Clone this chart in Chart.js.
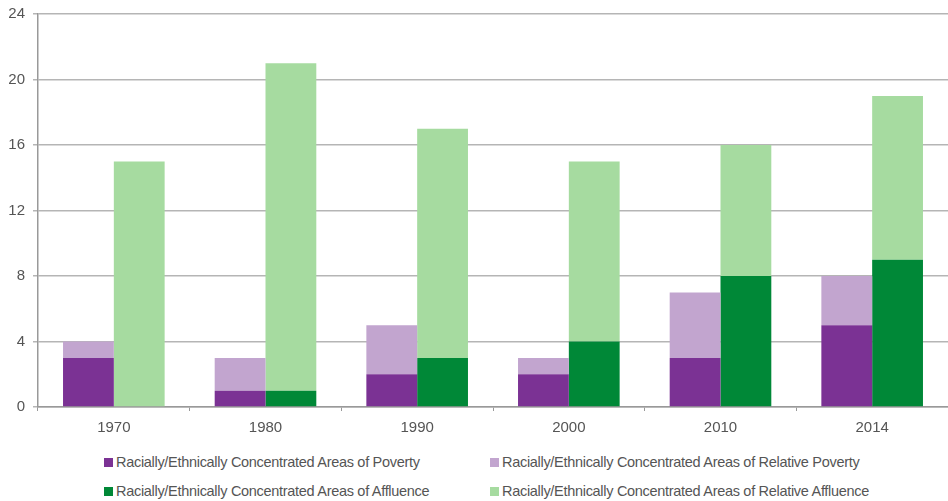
<!DOCTYPE html>
<html>
<head>
<meta charset="utf-8">
<script src="https://cdn.jsdelivr.net/npm/chart.js@4"></script>
<style>
  html, body { margin: 0; padding: 0; background: #fff; }
  #wrap { position: relative; width: 948px; height: 501px; }
  #c { position: absolute; left: 0; top: 0; }
  .legend { position: absolute; font-family: "Liberation Sans", Arial, sans-serif; font-size: 14.5px; color: #555; letter-spacing: -0.3px; white-space: nowrap; }
  .legend span.box { display: inline-block; width: 9px; height: 9px; margin-right: 3px; vertical-align: 0px; }
</style>
</head>
<body>
<div id="wrap">
  <canvas id="c" width="948" height="441"></canvas>
  <div id="legend"></div>
</div>
<script>
const categories = ["1970", "1980", "1990", "2000", "2010", "2014"];
const seriesNames = [
  "Racially/Ethnically Concentrated Areas of Poverty",
  "Racially/Ethnically Concentrated Areas of Relative Poverty",
  "Racially/Ethnically Concentrated Areas of Affluence",
  "Racially/Ethnically Concentrated Areas of Relative Affluence"
];
const poverty = [3, 1, 2, 2, 3, 5];
const relativePoverty = [1, 2, 3, 1, 4, 3];
const affluence = [0, 1, 3, 4, 8, 9];
const relativeAffluence = [15, 20, 14, 11, 8, 10];
const yTicks = [0, 4, 8, 12, 16, 20, 24];

const colors = ["#7b3294", "#c2a5cf", "#008837", "#a6dba0"];
const stacks = ["poverty", "poverty", "affluence", "affluence"];
const values = [poverty, relativePoverty, affluence, relativeAffluence];

const datasets = values.map((v, i) => ({
  label: seriesNames[i],
  data: v,
  backgroundColor: colors[i],
  stack: stacks[i],
  borderWidth: 0,
  categoryPercentage: 0.67,
  barPercentage: 1.0
}));

new Chart(document.getElementById("c"), {
  type: "bar",
  data: { labels: categories, datasets },
  options: {
    responsive: false,
    animation: false,
    layout: { padding: { top: 14, right: 0, left: 0, bottom: 0 } },
    plugins: { legend: { display: false }, tooltip: { enabled: false } },
    scales: {
      x: {
        stacked: true,
        grid: { display: true, drawOnChartArea: false, drawTicks: true, tickLength: 4, color: "#999", offset: true },
        border: { display: true, color: "#999", width: 1.5 },
        ticks: { color: "#555", font: { family: "Liberation Sans", size: 15 }, padding: 8 },
        afterFit: (s) => { s.height = 34; s.paddingLeft = 0; s.paddingRight = 0; }
      },
      y: {
        stacked: true,
        min: 0, max: 24,
        afterBuildTicks: (s) => { s.ticks = yTicks.map(v => ({ value: v })); },
        grid: { color: "#b5b5b5", lineWidth: 1.5, drawTicks: true, tickLength: 5 },
        border: { display: true, color: "#999", width: 1.5 },
        ticks: { color: "#555", font: { family: "Liberation Sans", size: 15 }, padding: 8 },
        afterFit: (s) => { s.width = 38; s.paddingTop = 0; s.paddingBottom = 0; }
      }
    }
  }
});

const legend = document.getElementById("legend");
const pos = [[104, 454], [490, 454], [104, 483], [490, 483]];
seriesNames.forEach((n, i) => {
  const d = document.createElement("div");
  d.className = "legend";
  d.style.left = pos[i][0] + "px";
  d.style.top = pos[i][1] + "px";
  d.innerHTML = '<span class="box" style="background:' + colors[i] + '"></span>' + n;
  legend.appendChild(d);
});
</script>
</body>
</html>
